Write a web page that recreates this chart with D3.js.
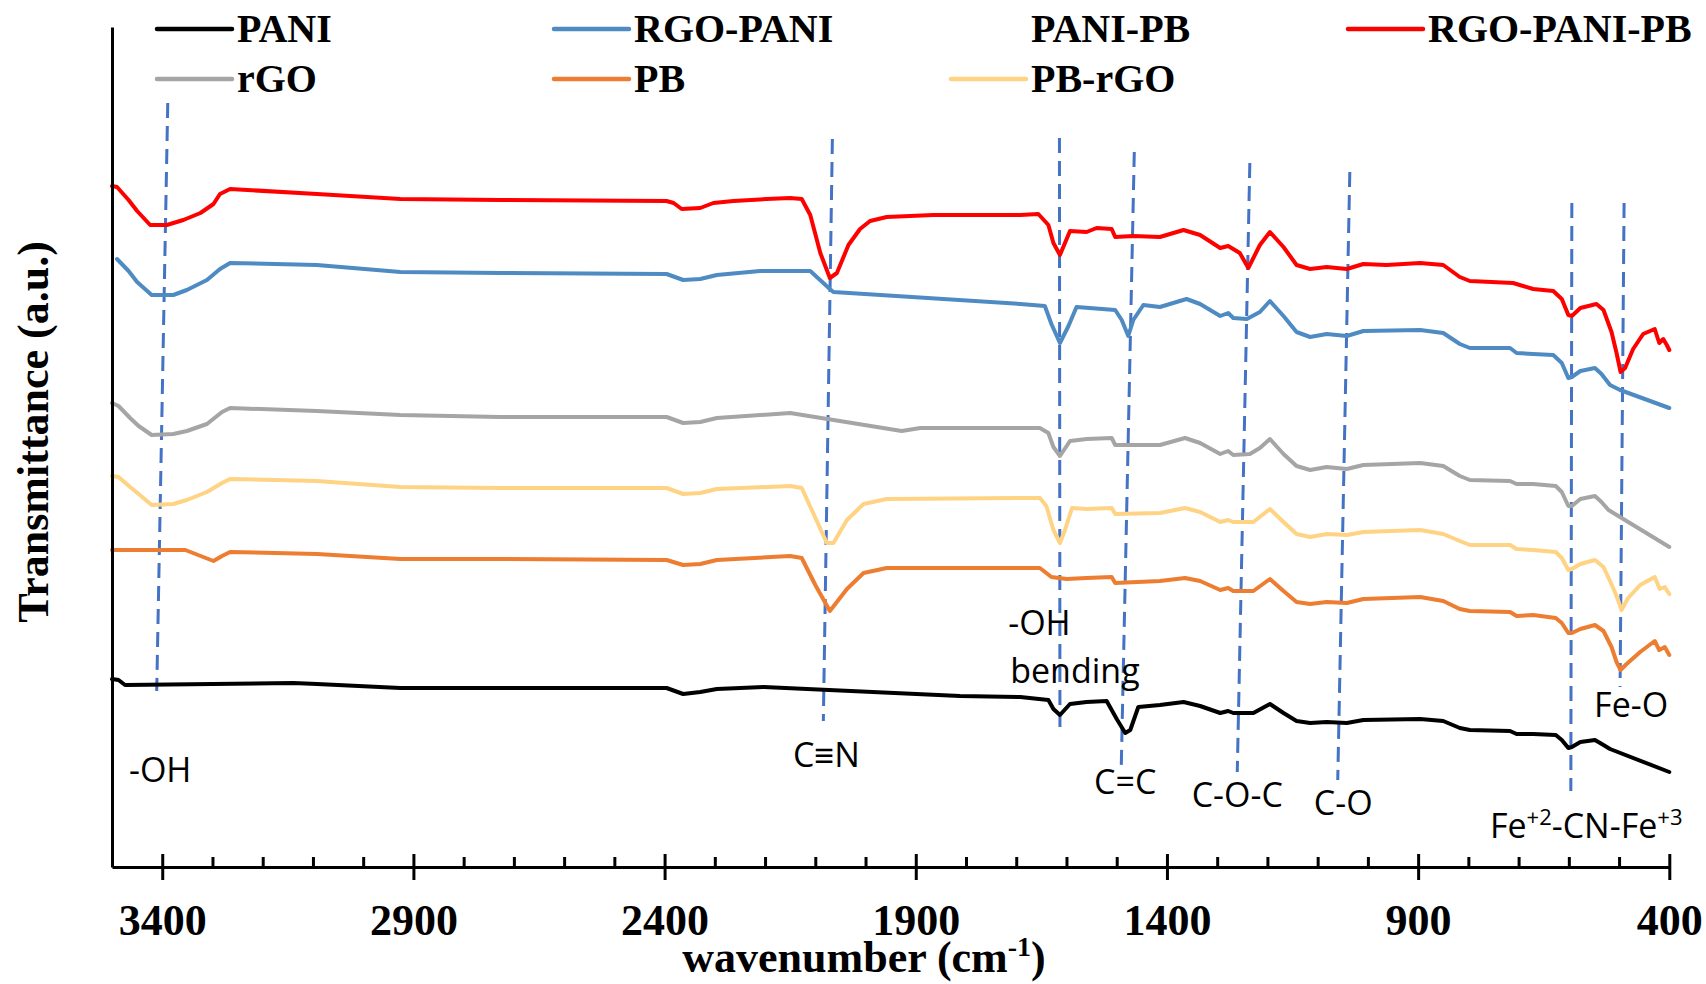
<!DOCTYPE html>
<html>
  <head>
    <meta http-equiv="Content-type" content="text/html; charset=utf-8"/>
    <title>FTIR spectra</title>
    <script src="https://d3js.org/d3.v7.min.js"></script>
    <style>
      body{ margin: 0; background: #fff; }
      svg{ display: block; }
      .bold{ font-family: "Liberation Serif", "Times New Roman", serif; font-weight: bold; }
      .note{ font-family: "Open Sans", sans-serif; font-size: 34px; fill: #000; }
    </style>
  </head>
  <body>
    <svg width="1706" height="984"></svg>
    <script>
      // ### Data: [wavenumber (cm-1), transmittance (a.u., stacked offset)] ###
      var pani = [[3500,18.8],[3487,18.7],[3474,18.2],[3139,18.4],[3092,18.3],[2926,17.9],[2727,17.9],[2396,17.9],[2363,17.3],[2329,17.5],[2296,17.8],[2203,18.0],[1812,17.1],[1692,17.0],[1636,16.7],[1626,15.8],[1613,15.2],[1593,16.3],[1560,16.5],[1520,16.6],[1500,14.8],[1483,13.4],[1473,13.7],[1457,16.0],[1414,16.2],[1367,16.5],[1334,16.1],[1294,15.4],[1278,15.6],[1268,15.4],[1228,15.4],[1195,16.3],[1168,15.4],[1142,14.6],[1115,14.4],[1082,14.5],[1042,14.4],[1009,14.7],[896,14.8],[850,14.6],[817,13.9],[797,13.7],[717,13.6],[704,13.3],[671,13.3],[626,13.2],[614,12.7],[601,11.9],[594,12.0],[577,12.5],[548,12.7],[531,12.2],[518,11.8],[400,9.5]];

      var rgoPani = [[3490,60.8],[3467,59.6],[3450,58.5],[3421,57.2],[3378,57.2],[3351,57.7],[3311,58.7],[3285,59.8],[3265,60.4],[3092,60.2],[2926,59.5],[2727,59.4],[2396,59.3],[2363,58.7],[2329,58.8],[2296,59.2],[2210,59.6],[2110,59.6],[2071,57.8],[2064,57.5],[1692,56.3],[1643,56.1],[1630,54.3],[1613,52.4],[1596,54.1],[1580,56.0],[1503,55.7],[1490,54.7],[1477,53.1],[1467,54.7],[1447,56.2],[1414,56.0],[1361,56.8],[1334,56.3],[1294,55.1],[1278,55.4],[1268,54.9],[1241,54.8],[1215,55.5],[1195,56.6],[1168,55.1],[1142,53.5],[1115,53.0],[1082,53.3],[1042,53.1],[1009,53.6],[896,53.7],[850,53.4],[817,52.3],[797,51.9],[717,51.9],[704,51.4],[671,51.3],[631,51.2],[614,50.4],[601,48.9],[594,49.0],[577,49.6],[548,49.9],[535,49.3],[518,48.2],[498,47.7],[400,45.9]];

      var paniPb = []; // listed in the legend, no trace drawn

      var rgoPaniPb = [[3500,68.1],[3490,68.0],[3467,66.7],[3450,65.6],[3424,64.2],[3391,64.2],[3358,64.7],[3324,65.4],[3298,66.3],[3285,67.3],[3265,67.8],[3092,67.3],[2926,66.8],[2727,66.7],[2396,66.6],[2382,66.4],[2366,65.8],[2329,65.9],[2303,66.4],[2263,66.6],[2197,66.8],[2150,66.9],[2127,66.8],[2110,65.2],[2090,61.4],[2071,58.9],[2057,59.4],[2034,62.2],[2011,63.8],[1991,64.6],[1958,65.0],[1865,65.2],[1692,65.2],[1656,65.3],[1636,64.2],[1626,62.4],[1613,61.2],[1593,63.6],[1560,63.5],[1540,63.9],[1510,63.8],[1503,63.0],[1467,63.1],[1414,63.0],[1367,63.7],[1334,63.2],[1294,61.9],[1278,62.1],[1255,61.4],[1238,59.9],[1215,62.2],[1195,63.5],[1168,62.0],[1142,60.2],[1115,59.8],[1082,60.0],[1042,59.8],[1009,60.3],[963,60.2],[896,60.4],[850,60.2],[817,59.0],[797,58.6],[711,58.4],[671,57.8],[631,57.6],[614,56.8],[601,55.2],[594,55.1],[577,55.9],[545,56.3],[531,55.7],[515,53.5],[505,51.4],[497,49.5],[488,49.9],[472,51.8],[452,53.3],[429,53.8],[420,52.4],[412,52.8],[405,52.2],[400,51.7]];

      var rgo = [[3500,46.4],[3487,46.1],[3464,44.9],[3447,44.1],[3421,43.2],[3378,43.3],[3351,43.6],[3311,44.3],[3281,45.5],[3265,45.9],[3092,45.6],[2926,45.2],[2727,45.0],[2396,45.0],[2363,44.4],[2329,44.5],[2296,44.9],[2150,45.4],[1928,43.6],[1891,43.9],[1692,43.9],[1653,43.9],[1636,43.4],[1626,42.0],[1613,41.1],[1593,42.6],[1560,42.8],[1510,42.9],[1503,42.2],[1414,42.2],[1364,42.9],[1334,42.4],[1294,41.3],[1278,41.6],[1268,41.2],[1235,41.3],[1215,41.9],[1195,42.8],[1168,41.3],[1142,40.1],[1115,39.7],[1082,40.0],[1042,39.8],[1009,40.2],[896,40.4],[850,40.1],[817,39.1],[797,38.7],[717,38.6],[704,38.3],[671,38.3],[626,38.1],[614,37.5],[601,36.1],[594,36.1],[577,36.8],[548,37.1],[535,36.5],[521,35.7],[400,32.0]];

      var pb = [[3500,31.7],[3354,31.7],[3298,30.6],[3281,31.1],[3265,31.5],[3092,31.3],[2926,30.8],[2727,30.8],[2396,30.7],[2363,30.2],[2329,30.3],[2296,30.7],[2150,31.1],[2127,30.9],[2100,28.2],[2071,25.6],[2037,27.8],[2004,29.4],[1958,29.9],[1692,29.9],[1653,29.9],[1630,29.0],[1600,28.8],[1560,28.9],[1510,29.0],[1503,28.4],[1414,28.6],[1364,28.9],[1334,28.6],[1294,27.7],[1278,27.9],[1268,27.6],[1228,27.6],[1195,28.8],[1168,27.6],[1142,26.5],[1115,26.3],[1082,26.5],[1042,26.4],[1009,26.8],[896,27.0],[850,26.6],[817,25.8],[797,25.6],[717,25.5],[704,25.1],[671,25.2],[626,24.9],[614,24.4],[601,23.4],[594,23.4],[577,23.8],[548,24.2],[531,23.6],[515,22.0],[505,20.5],[497,19.7],[485,20.3],[458,21.5],[429,22.6],[420,21.7],[409,22.0],[400,21.2]];

      var pbRgo = [[3500,39.1],[3487,39.0],[3464,38.0],[3447,37.3],[3421,36.2],[3378,36.3],[3351,36.7],[3311,37.5],[3281,38.4],[3265,38.8],[3092,38.6],[2926,38.0],[2727,37.9],[2396,37.9],[2363,37.3],[2329,37.4],[2296,37.8],[2150,38.1],[2127,37.9],[2107,35.7],[2077,32.4],[2064,32.4],[2037,34.7],[2004,36.3],[1958,36.8],[1692,36.9],[1653,36.9],[1640,36.1],[1626,33.7],[1613,32.4],[1603,33.7],[1589,35.9],[1560,35.8],[1510,35.9],[1503,35.3],[1414,35.4],[1364,35.9],[1334,35.5],[1294,34.5],[1278,34.7],[1268,34.5],[1228,34.5],[1195,35.8],[1168,34.5],[1142,33.3],[1115,33.0],[1082,33.3],[1042,33.2],[1009,33.5],[896,33.7],[850,33.3],[817,32.6],[797,32.2],[717,32.2],[704,31.8],[671,31.7],[626,31.5],[614,30.9],[601,29.7],[594,29.8],[577,30.3],[548,30.7],[531,30.0],[518,28.6],[505,27.1],[495,25.7],[482,26.9],[458,28.2],[429,29.0],[419,27.8],[409,28.0],[400,27.3]];

      // legend order (row by row) and colours
      var seriesNames = ["PANI", "RGO-PANI", "PANI-PB", "RGO-PANI-PB", "rGO", "PB", "PB-rGO"];
      var seriesData = [pani, rgoPani, paniPb, rgoPaniPb, rgo, pb, pbRgo];
      var seriesColors = ["#000000", "#4f8bc3", "none", "#ff0000", "#a5a5a5", "#ed7d31", "#ffd384"];

      // x axis ticks
      var majorTicks = [3400, 2900, 2400, 1900, 1400, 900, 400];
      var minorTicks = d3.range(3300, 400, -100).filter(function(d){ return majorTicks.indexOf(d) < 0; });

      // dashed band markers: wavenumber at top / bottom, value at top / bottom
      var markWnTop = [3389, 2066, 1614, 1465, 1235, 1036, 594, 490];
      var markWnBottom = [3411, 2084, 1613, 1491, 1260, 1060, 596, 498];
      var markTop = [76.4, 72.8, 72.9, 71.5, 70.4, 69.5, 66.4, 66.4];
      var markBottom = [17.6, 14.6, 14.0, 9.9, 9.5, 8.7, 7.6, 18.0];

      // band labels
      var noteText = ["-OH", "C≡N", "-OH", "bending", "C=C", "C-O-C", "C-O", "Fe-O"];
      var noteWn = [3404, 2078, 1716, 1712, 1483, 1260, 1049, 476];
      var noteVal = [8.5, 10.0, 23.2, 18.4, 7.3, 6.0, 5.2, 15.0];
      var noteAnchor = ["middle", "middle", "start", "start", "middle", "middle", "middle", "middle"];

      var svg = d3.select("svg");

      var x = d3.scaleLinear().domain([3500, 400]).range([112, 1669.3]);
      var y = d3.scaleLinear().domain([0, 84]).range([867, 27]);

      var line = d3.line()
          .x(function(d){ return x(d[0]); })
          .y(function(d){ return y(d[1]); });

      // dashed markers
      svg.append("g").selectAll("line")
        .data(markTop)
        .enter().append("line")
          .attr("x1", function(d, i){ return x(markWnTop[i]); })
          .attr("x2", function(d, i){ return x(markWnBottom[i]); })
          .attr("y1", function(d){ return y(d); })
          .attr("y2", function(d, i){ return y(markBottom[i]); })
          .attr("stroke", "#4472c4")
          .attr("stroke-width", 3)
          .attr("stroke-dasharray", "15,8");

      // spectra
      var drawOrder = [0, 5, 6, 4, 1, 3];
      drawOrder.forEach(function(i){
        svg.append("path")
            .datum(seriesData[i])
            .attr("fill", "none")
            .attr("stroke", seriesColors[i])
            .attr("stroke-width", 4)
            .attr("stroke-linejoin", "round")
            .attr("stroke-linecap", "round")
            .attr("d", line);
      });

      // axes
      var gx = svg.append("g").attr("transform", "translate(0," + y(0) + ")");
      gx.call(d3.axisBottom(x).tickValues(minorTicks).tickSize(-10).tickSizeOuter(0).tickFormat(""));
      gx.append("g").call(d3.axisBottom(x).tickValues(majorTicks).tickSize(13).tickSizeOuter(0)
          .tickFormat(d3.format("d")))
        .call(function(g){ g.select(".domain").remove(); })
        .call(function(g){ g.selectAll(".tick line").attr("y1", -13); })
        .call(function(g){
          g.selectAll(".tick text")
            .attr("class", "bold")
            .attr("y", 68).attr("dy", 0)
            .attr("font-size", 44)
            .attr("fill", "#000");
        });
      gx.selectAll("line, path").attr("stroke", "#000").attr("stroke-width", 3);

      svg.append("g")
          .attr("transform", "translate(" + x(3500) + ",0)")
          .call(d3.axisLeft(y).tickValues([]).tickSizeOuter(0))
        .select(".domain")
          .attr("stroke", "#000")
          .attr("stroke-width", 3);

      // axis titles
      var xt = svg.append("text")
          .attr("class", "bold")
          .attr("x", 864).attr("y", 972)
          .attr("text-anchor", "middle")
          .attr("font-size", 44);
      xt.append("tspan").text("wavenumber (cm");
      xt.append("tspan").attr("font-size", 28).attr("dy", -16).text("-1");
      xt.append("tspan").attr("dy", 16).text(")");

      svg.append("text")
          .attr("class", "bold")
          .attr("transform", "translate(48,432) rotate(-90)")
          .attr("text-anchor", "middle")
          .attr("font-size", 44)
          .text("Transmittance (a.u.)");

      // band labels
      svg.append("g").selectAll("text")
        .data(noteText)
        .enter().append("text")
          .attr("class", "note")
          .attr("x", function(d, i){ return x(noteWn[i]); })
          .attr("y", function(d, i){ return y(noteVal[i]); })
          .attr("text-anchor", function(d, i){ return noteAnchor[i]; })
          .text(function(d){ return d; });

      var fe = svg.append("text")
          .attr("class", "note")
          .attr("x", x(757)).attr("y", y(2.9));
      [["Fe", 0], ["+2", 1], ["-CN-Fe", 0], ["+3", 1]].forEach(function(p, i, arr){
        var prevSup = i > 0 && arr[i - 1][1];
        var t = fe.append("tspan").text(p[0]);
        if(p[1]){ t.attr("font-size", 22).attr("dy", -13); }
        else if(prevSup){ t.attr("dy", 13); }
      });

      // legend
      var legend = svg.append("g");
      seriesNames.forEach(function(name, i){
        var col = i < 4 ? i : i - 4,
            row = i < 4 ? 0 : 1,
            lx = 157 + col * 397,
            ly = 29 + row * 50;
        legend.append("line")
            .attr("x1", lx).attr("x2", lx + 75)
            .attr("y1", ly).attr("y2", ly)
            .attr("stroke", seriesColors[i])
            .attr("stroke-width", 4.5)
            .attr("stroke-linecap", "round");
        legend.append("text")
            .attr("class", "bold")
            .attr("x", lx + 80).attr("y", ly + 12.5)
            .attr("font-size", 40)
            .text(name);
      });
    </script>
  </body>
</html>
